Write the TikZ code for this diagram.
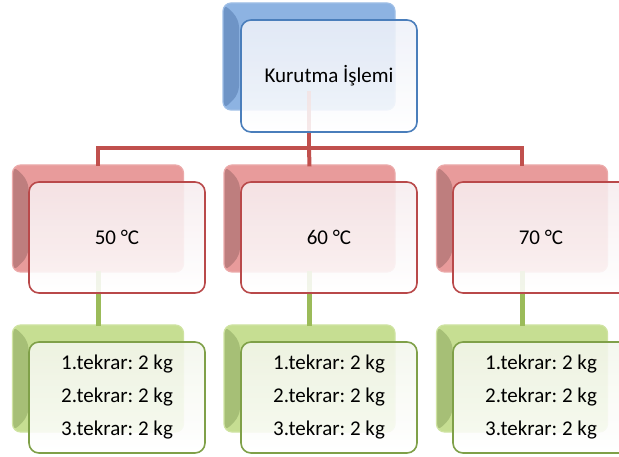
\documentclass[tikz,border=0pt]{standalone}
\usepackage{fontspec}
\setmainfont{Carlito}
\usetikzlibrary{calc}
\frenchspacing
\definecolor{lineR}{HTML}{C0504D}
\definecolor{lineG}{HTML}{9BBB59}
\definecolor{bkB}{HTML}{8DB3E2}
\definecolor{bkBd}{HTML}{6E94C6}
\definecolor{frB}{HTML}{4A7EBB}
\definecolor{frBfill}{HTML}{EDF0F8}
\definecolor{bkR}{HTML}{E89B9B}
\definecolor{bkRd}{HTML}{BE7E7E}
\definecolor{frR}{HTML}{B9494A}
\definecolor{frRfill}{HTML}{F6ECEE}
\definecolor{bkG}{HTML}{C6DE92}
\definecolor{bkGd}{HTML}{A6BF76}
\definecolor{frG}{HTML}{7FA048}
\definecolor{frGfill}{HTML}{F3F6EC}
\tikzset{
  backbox/.style 2 args={rectangle, rounded corners=8pt, minimum width=171pt, minimum height=107pt,
    inner sep=0pt, fill=#1, draw=#1!85!white, line width=1.2pt,
    path picture={\fill[#2] (path picture bounding box.north west) -- ++(16,16)
       -- ($(path picture bounding box.south west)+(16,-16)$) -- (path picture bounding box.south west) -- cycle;}},
  frontbox/.style 2 args={rectangle, rounded corners=10pt, minimum width=176pt, minimum height=111pt,
    inner sep=0pt, draw=#1, line width=1.6pt, top color=#2, bottom color=white, fill opacity=0.88,
    text opacity=1, font=\fontsize{21}{33}\selectfont\frenchspacing, align=center, text=black},
  conR/.style={draw=lineR, line width=4pt},
  conG/.style={draw=lineG, line width=5pt},
}
\begin{document}
\begin{tikzpicture}[x=1pt,y=-1pt]
\useasboundingbox (0,0) rectangle (619,457);
\clip (0,0) rectangle (619,457);
% back boxes
\node[backbox={bkB}{bkBd}, minimum width=172pt] (tb) at (309,56.5) {};
\node[backbox={bkR}{bkRd}] (b50) at (98,218.5) {};
\node[backbox={bkR}{bkRd}] (b60) at (309.5,218.5) {};
\node[backbox={bkR}{bkRd}] (b70) at (522,218.5) {};
\node[backbox={bkG}{bkGd}] (g50) at (98,378.5) {};
\node[backbox={bkG}{bkGd}] (g60) at (309.5,378.5) {};
\node[backbox={bkG}{bkGd}] (g70) at (522,378.5) {};
% connectors
\coordinate (bar) at (309,148);
\draw[conR] ($(tb.south)+(0,-20)$) -- (bar);
\draw[conR] (bar) -| ($(b50.north)+(0,2)$);
\draw[conR] (bar) -| ($(b70.north)+(0,2)$);
\draw[conR] (bar) -- ($(b60.north)+(0,2)$);
\draw[conG] ($(b50.south)+(0,-2)$) -- ($(g50.north)+(0,2)$);
\draw[conG] ($(b60.south)+(0,-2)$) -- ($(g60.north)+(0,2)$);
\draw[conG] ($(b70.south)+(0,-2)$) -- ($(g70.north)+(0,2)$);
% front boxes
\node[frontbox={frB}{frBfill}, minimum height=112pt] (tf) at (329,76) {Kurutma İşlemi};
\node[frontbox={frR}{frRfill}] (f50) at (117,237.5) {50 °C};
\node[frontbox={frR}{frRfill}] (f60) at (329,237.5) {60 °C};
\node[frontbox={frR}{frRfill}] (f70) at (541,237.5) {70 °C};
\node[frontbox={frG}{frGfill}] (h50) at (117,397.5) {1.tekrar: 2 kg\\2.tekrar: 2 kg\\3.tekrar: 2 kg};
\node[frontbox={frG}{frGfill}] (h60) at (329,397.5) {1.tekrar: 2 kg\\2.tekrar: 2 kg\\3.tekrar: 2 kg};
\node[frontbox={frG}{frGfill}] (h70) at (541,397.5) {1.tekrar: 2 kg\\2.tekrar: 2 kg\\3.tekrar: 2 kg};
\end{tikzpicture}
\end{document}
